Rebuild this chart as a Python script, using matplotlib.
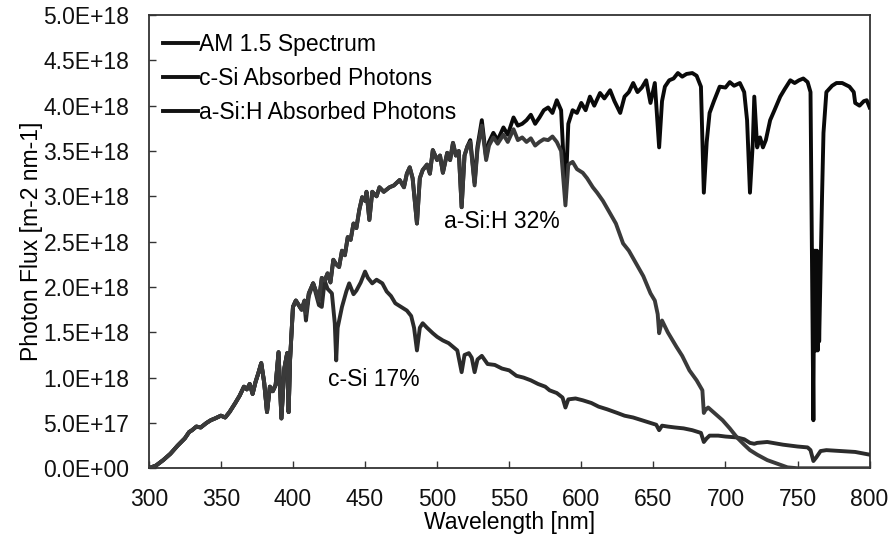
import matplotlib
matplotlib.use("Agg")
import matplotlib.pyplot as plt
from matplotlib.ticker import FuncFormatter, MultipleLocator
import numpy as np

# AM 1.5 photon flux, wavelength in nm, flux in 1E18 photons m-2 nm-1
am_nm = [300, 305, 310, 315, 320, 325, 328, 330, 333, 336, 340, 343, 346, 350, 353, 356,
         360, 363, 366, 368, 370, 372, 374, 376, 378, 380, 382, 384, 386, 388, 390, 392,
         394, 396, 397, 398, 400, 402, 404, 406, 408, 409, 411, 414, 416, 418, 420, 422,
         424, 426, 428, 430, 432, 434, 436, 438, 440, 442, 444, 446, 448, 450, 451, 453,
         455, 458, 460, 463, 467, 470, 474, 477, 479, 481, 483, 486, 488, 490, 493, 495,
         497, 500, 502, 504, 507, 509, 511, 513, 515, 517, 519, 521, 523, 526, 528, 531,
         534, 536, 539, 542, 546, 549, 553, 556, 559, 562, 565, 568, 571, 574, 577, 580,
         583, 586, 589, 591, 594, 597, 600, 603, 606, 609, 613, 616, 620, 623, 627, 630,
         633, 636, 639, 642, 645, 648, 651, 654, 656, 658, 661, 664, 667, 670, 673, 677,
         680, 683, 685, 687, 689, 692, 696, 700, 703, 706, 710, 713, 715, 717, 719, 720,
         722, 724, 726, 728, 731, 734, 738, 741, 745, 748, 751, 754, 757, 759, 760, 761,
         761.5, 762, 762.5, 763, 763.5, 764, 764.5, 765, 766, 767, 768, 770, 774, 777, 781,
         786, 789, 790, 793, 796, 798, 800]
am_flux = [0.00, 0.03, 0.09, 0.16, 0.25, 0.33, 0.40, 0.42, 0.46, 0.45, 0.50, 0.53, 0.55, 0.58, 0.56, 0.62,
           0.72, 0.80, 0.90, 0.87, 0.93, 0.82, 0.95, 1.05, 1.16, 0.95, 0.62, 0.90, 0.85, 0.92, 1.28, 0.55,
           1.10, 1.27, 0.62, 1.20, 1.78, 1.85, 1.80, 1.75, 1.85, 1.71, 1.93, 2.04, 1.95, 1.85, 2.10, 2.07,
           2.15, 2.05, 2.30, 2.25, 2.22, 2.40, 2.35, 2.55, 2.52, 2.70, 2.65, 2.85, 2.99, 2.95, 3.05, 2.74,
           3.05, 3.00, 3.10, 3.05, 3.10, 3.12, 3.18, 3.10, 3.25, 3.32, 3.20, 2.70, 3.20, 3.29, 3.35, 3.25,
           3.51, 3.40, 3.45, 3.26, 3.48, 3.40, 3.59, 3.45, 3.50, 2.88, 3.45, 3.55, 3.62, 3.15, 3.55, 3.84,
           3.43, 3.60, 3.70, 3.62, 3.76, 3.68, 3.87, 3.78, 3.80, 3.84, 3.90, 3.80, 3.87, 3.95, 3.98, 3.92,
           4.06, 3.95, 2.99, 3.80, 3.95, 3.92, 4.03, 3.95, 4.10, 4.00, 4.14, 4.08, 4.17, 4.05, 3.92, 4.10,
           4.15, 4.25, 4.15, 4.20, 4.28, 4.03, 4.25, 3.54, 4.05, 4.21, 4.28, 4.30, 4.36, 4.32, 4.35, 4.36,
           4.33, 4.21, 3.04, 3.60, 3.92, 4.05, 4.21, 4.20, 4.26, 4.22, 4.25, 4.15, 3.84, 3.04, 3.60, 4.10,
           3.54, 3.65, 3.54, 3.62, 3.84, 3.95, 4.10, 4.18, 4.28, 4.25, 4.28, 4.30, 4.26, 4.15, 2.40, 0.53,
           2.40, 1.30, 2.40, 1.30, 2.40, 1.30, 2.30, 1.40, 2.20, 3.00, 3.70, 4.15, 4.22, 4.25, 4.25,
           4.21, 4.15, 4.03, 4.00, 4.05, 4.06, 3.98]

# c-Si absorbed photons above 400 nm (below that it follows the spectrum)
csi_nm = [402, 404, 406, 408, 409, 411, 414, 416, 418, 420, 422, 424, 427, 429, 430, 431,
          434, 437, 439, 442, 444, 447, 450, 452, 455, 458, 462, 465, 468, 471, 475, 479,
          482, 484, 486, 488, 490, 493, 497, 500, 504, 508, 511, 514, 517, 519, 522, 524,
          526, 528, 531, 535, 540, 545, 550, 555, 560, 565, 570, 575, 578, 583, 587, 589,
          591, 596, 601, 607, 612, 618, 625, 630, 636, 642, 648, 652, 654, 656, 660, 665,
          671, 677, 683, 685, 687, 689, 695, 700, 708, 713, 717, 720, 722, 729, 740, 750,
          757, 759, 761, 763, 766, 770, 780, 790, 800]
csi_flux = [1.85, 1.80, 1.75, 1.80, 1.63, 1.90, 2.04, 1.92, 1.80, 1.78, 2.07, 1.98, 1.93, 1.60, 1.19, 1.55,
            1.78, 1.95, 2.04, 1.92, 1.96, 2.05, 2.17, 2.10, 2.04, 2.08, 2.04, 1.95, 1.90, 1.82, 1.78, 1.74,
            1.68, 1.55, 1.30, 1.55, 1.60, 1.55, 1.49, 1.45, 1.41, 1.38, 1.34, 1.30, 1.06, 1.25, 1.27, 1.22,
            1.06, 1.20, 1.24, 1.15, 1.14, 1.10, 1.08, 1.02, 1.00, 0.97, 0.93, 0.90, 0.86, 0.83, 0.78, 0.67,
            0.76, 0.77, 0.75, 0.72, 0.68, 0.65, 0.61, 0.58, 0.56, 0.53, 0.50, 0.48, 0.42, 0.47, 0.46, 0.45,
            0.44, 0.42, 0.39, 0.29, 0.33, 0.36, 0.36, 0.35, 0.34, 0.32, 0.28, 0.27, 0.28, 0.29, 0.26, 0.24,
            0.23, 0.20, 0.08, 0.12, 0.19, 0.20, 0.19, 0.18, 0.15]

# a-Si:H absorbed photons above 521 nm (below that it follows the spectrum)
asi_nm = [523, 526, 528, 531, 534, 536, 539, 542, 546, 549, 553, 556, 559, 562, 565, 568,
          571, 574, 577, 580, 583, 586, 589, 591, 594, 597, 601, 604, 608, 611, 615, 620,
          624, 629, 633, 638, 643, 648, 651, 653, 654, 656, 660, 666, 670, 675, 680, 684,
          685, 686, 688, 693, 698, 703, 708, 713, 717, 722, 729, 736, 743, 750, 760, 800]
asi_flux = [3.60, 3.12, 3.52, 3.78, 3.40, 3.56, 3.65, 3.58, 3.68, 3.60, 3.74, 3.62, 3.65, 3.60, 3.64, 3.56,
            3.60, 3.63, 3.62, 3.66, 3.60, 3.50, 2.90, 3.35, 3.38, 3.30, 3.26, 3.20, 3.10, 3.04, 2.95, 2.81,
            2.70, 2.48, 2.40, 2.26, 2.12, 1.93, 1.85, 1.70, 1.49, 1.63, 1.50, 1.34, 1.24, 1.08, 0.97, 0.86,
            0.61, 0.64, 0.67, 0.60, 0.53, 0.44, 0.34, 0.26, 0.20, 0.15, 0.09, 0.05, 0.01, 0.00, 0.00, 0.00]

scale = 1e18
am_x = np.array(am_nm)
am_y = np.array(am_flux) * scale

low = am_x <= 400
csi_x = np.concatenate([am_x[low], csi_nm])
csi_y = np.concatenate([am_y[low], np.array(csi_flux) * scale])

low = am_x <= 521
asi_x = np.concatenate([am_x[low], asi_nm])
asi_y = np.concatenate([am_y[low], np.array(asi_flux) * scale])

plt.rcParams['font.family'] = ['Liberation Sans', 'DejaVu Sans']
fs = 16.5

fig = plt.figure(figsize=(8.91, 5.37), dpi=100)
ax = fig.add_axes([0.167, 0.128, 0.809, 0.844])

ax.plot(am_x, am_y, color='#0a0a0a', lw=2.8, label='AM 1.5 Spectrum', zorder=3)
ax.plot(csi_x, csi_y, color='#2b2b2b', lw=2.8, label='c-Si Absorbed Photons', zorder=4)
ax.plot(asi_x, asi_y, color='#3a3a3a', lw=2.8, label='a-Si:H Absorbed Photons', zorder=5)

ax.text(505, 2.72e18, 'a-Si:H 32%', fontsize=fs, va='center', ha='left')
ax.text(424, 0.98e18, 'c-Si 17%', fontsize=fs, va='center', ha='left')

ax.set_xlim(300, 800)
ax.set_ylim(0, 5e18)
ax.xaxis.set_major_locator(MultipleLocator(50))
ax.yaxis.set_major_locator(MultipleLocator(5e17))
ax.yaxis.set_major_formatter(FuncFormatter(lambda v, p: f"{v:.1E}"))
ax.tick_params(direction='in', length=5, width=1, labelsize=fs, color='#333333', labelcolor='#111111')
ax.tick_params(axis='x', pad=14)
ax.tick_params(axis='y', pad=14)
for s in ax.spines.values():
    s.set_linewidth(1.3)
    s.set_color('#333333')

ax.set_xlabel('Wavelength [nm]', fontsize=fs, labelpad=0)
ax.set_ylabel('Photon Flux [m-2 nm-1]', fontsize=fs, labelpad=0)

leg = ax.legend(loc='upper left', bbox_to_anchor=(0.02, 0.96), frameon=False,
                fontsize=fs, handlelength=1.5, handletextpad=0.05,
                labelspacing=0.48, borderpad=0, borderaxespad=0)
for h in leg.get_lines():
    h.set_color('#111111')
    h.set_linewidth(2.8)

fig.savefig('out.png', dpi=100)
